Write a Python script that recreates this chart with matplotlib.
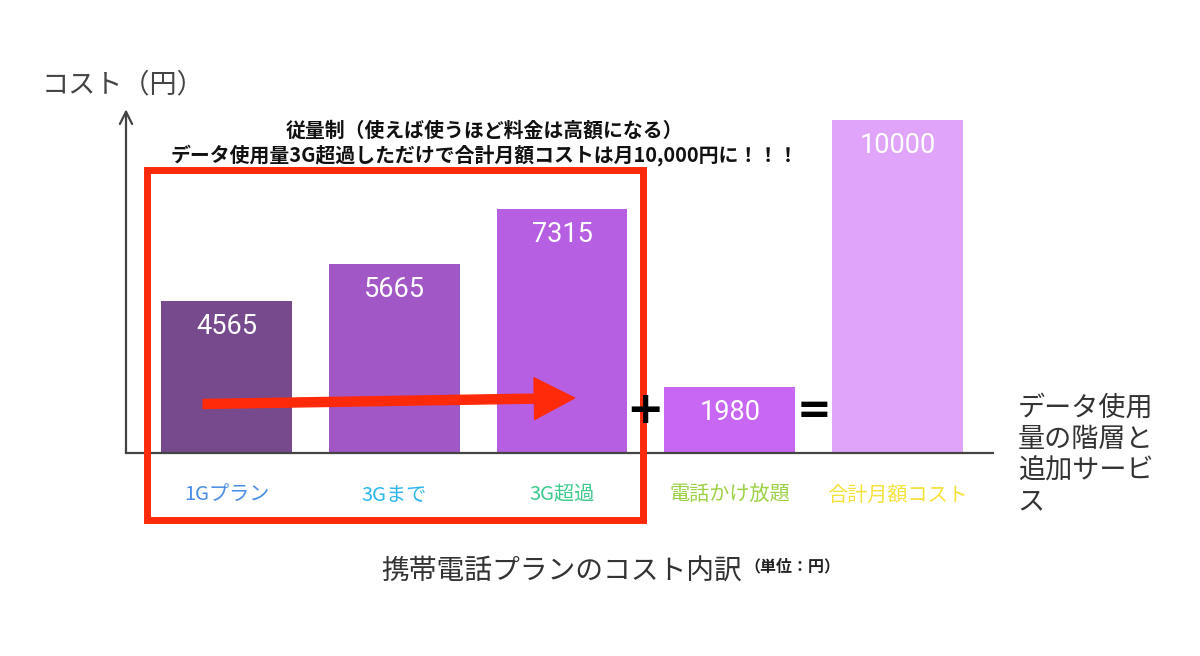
import matplotlib
matplotlib.use('Agg')
import matplotlib.pyplot as plt
from matplotlib.patches import Rectangle

plt.rcParams['font.family'] = ['Noto Sans CJK JP', 'DejaVu Sans']

# =============================================================================
#   DATA
# =============================================================================

categories = ['1Gプラン', '3Gまで', '3G超過', '電話かけ放題', '合計月額コスト']
values = [4565, 5665, 7315, 1980, 10000]
bar_colors = ['#764A8D', '#A257C6', '#B65FE2', '#C967F5', '#E0A5FA']
label_colors = ['#4A8DE6', '#2DB6EC', '#3ECB8C', '#9CD145', '#F4E23A']

title_lines = ['従量制（使えば使うほど料金は高額になる）',
               'データ使用量3G超過しただけで合計月額コストは月10,000円に！！！']
ylabel = 'コスト（円）'
xlabel = 'データ使用\n量の階層と\n追加サービ\nス'
caption = '携帯電話プランのコスト内訳'
unit = '（単位：円）'

RED = '#FF2A0A'
GREY = '#444444'

# =============================================================================
#   PLOT
# =============================================================================

fig = plt.figure(figsize=(12, 6.56), dpi=100)
ax = fig.add_axes([0.105, 0.3095, 0.7225, 0.5213])

x = list(range(len(categories)))
ax.bar(x, values, width=0.78, color=bar_colors, zorder=2)
ax.set_xlim(-0.6, 4.57)
ax.set_ylim(0, 10260)

# value labels inside the bars
for xi, v in zip(x, values):
    ax.annotate(str(v), (xi, v), xytext=(0, -18.5), textcoords='offset points',
                ha='center', va='center', color='white', fontsize=19.5,
                family=['Roboto', 'DejaVu Sans'], zorder=3)

# axes: bottom line + arrow for y
for s in ['top', 'right', 'left']:
    ax.spines[s].set_visible(False)
ax.spines['bottom'].set_color(GREY)
ax.spines['bottom'].set_linewidth(1.6)
ax.annotate('', xy=(0, 1.005), xytext=(0, 0), xycoords='axes fraction',
            arrowprops=dict(arrowstyle='->', color=GREY, lw=1.6,
                            mutation_scale=22, shrinkA=0, shrinkB=0))
ax.set_yticks([])
ax.set_xticks(x)
ax.set_xticklabels(categories, fontsize=14.5)
ax.tick_params(axis='x', length=0, pad=23)
for lbl, c in zip(ax.get_xticklabels(), label_colors):
    lbl.set_color(c)

# red frame around the data tiers
ax.add_patch(Rectangle((-0.474, -2010), 2.959, 10510, fill=False,
                       edgecolor=RED, lw=5, clip_on=False, zorder=4))

# red arrow across the tiers
ax.annotate('', xy=(2.075, 1650), xytext=(-0.14, 1470),
            arrowprops=dict(arrowstyle='simple,head_width=3.0,head_length=2.9,tail_width=0.65',
                            color=RED, mutation_scale=10, shrinkA=0, shrinkB=0),
            zorder=5)

# + and = signs
ax.text(2.495, 1260, '+', ha='center', va='center', fontsize=32,
        fontweight='bold', color='black', family=['DejaVu Sans'], zorder=6)
ax.text(3.5, 1260, '=', ha='center', va='center', fontsize=30,
        fontweight='bold', color='black', family=['DejaVu Sans'], zorder=6)

# texts
fig.text(0.404, 0.802, title_lines[0], ha='center', va='center',
         fontsize=14.3, fontweight='bold', color='#111111')
fig.text(0.404, 0.764, title_lines[1], ha='center', va='center',
         fontsize=14.3, fontweight='bold', color='#111111')
fig.text(0.035, 0.87, ylabel, ha='left', va='center', fontsize=19.5, color=GREY)
fig.text(0.848, 0.306, xlabel, ha='left', va='center', fontsize=19.5,
         color='#333333', linespacing=1.2)
fig.text(0.318, 0.128, caption, ha='left', va='center', fontsize=20,
         color='#333333')
fig.text(0.620, 0.137, unit, ha='left', va='center', fontsize=11.5,
         fontweight='bold', color='#222222')

fig.savefig('out.png', dpi=100)
